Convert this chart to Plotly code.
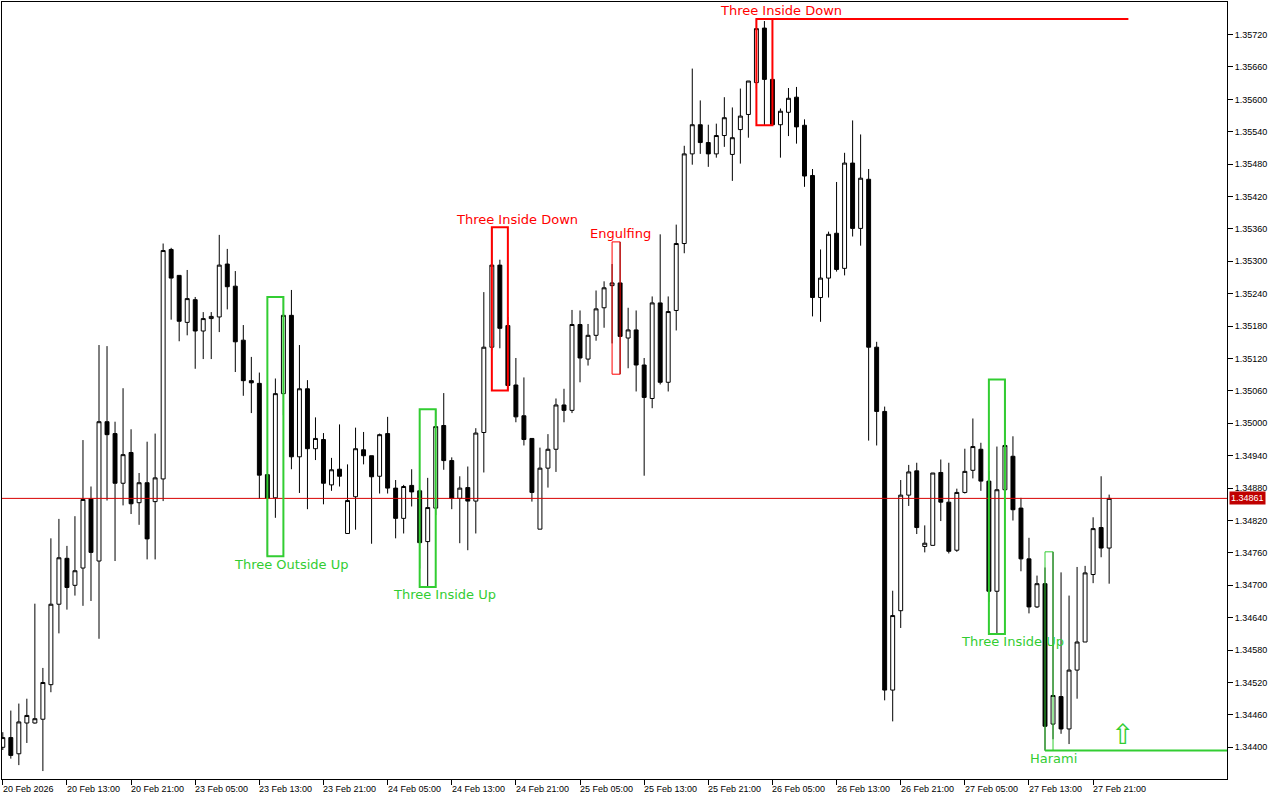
import plotly.graph_objects as go

# ---------------- data (H1 candles, 20 Feb 05:00 .. 27 Feb 23:00) ----------------
open_ = [
    1.34400, 1.34418, 1.34388, 1.34445, 1.34445, 1.34452, 1.34516, 1.34665, 1.34750, 1.34700,
    1.34732, 1.34860, 1.34745, 1.35003, 1.34981, 1.34889, 1.34946, 1.34853, 1.34890, 1.34855,
    1.34897, 1.35322, 1.35274, 1.35187, 1.35229, 1.35171, 1.35194, 1.35197, 1.35295, 1.35254,
    1.35154, 1.35079, 1.35074, 1.34905, 1.34862, 1.35055, 1.35200, 1.34938, 1.35064, 1.34953,
    1.34970, 1.34886, 1.34915, 1.34796, 1.34864, 1.34951, 1.34940, 1.34902, 1.34981, 1.34880,
    1.34824, 1.34885, 1.34875, 1.34781, 1.34843, 1.34996, 1.34931, 1.34861, 1.34881, 1.34856,
    1.34983, 1.35141, 1.35293, 1.35181, 1.35071, 1.35014, 1.34972, 1.34804, 1.34917, 1.34952,
    1.35034, 1.35024, 1.35183, 1.35119, 1.35163, 1.35214, 1.35255, 1.35260, 1.35158, 1.35173,
    1.35108, 1.35046, 1.35223, 1.35076, 1.35209, 1.35333, 1.35499, 1.35553, 1.35520, 1.35499,
    1.35533, 1.35498, 1.35544, 1.35572, 1.35631, 1.35732, 1.35637, 1.35553, 1.35576, 1.35604,
    1.35552, 1.35459, 1.35233, 1.35269, 1.35352, 1.35287, 1.35482, 1.35361, 1.35452, 1.35141,
    1.35022, 1.34506, 1.34653, 1.34867, 1.34912, 1.34772, 1.34774, 1.34909, 1.34854, 1.34765,
    1.34872, 1.34913, 1.34952, 1.34893, 1.34689, 1.34877, 1.34939, 1.34843, 1.34749, 1.34660,
    1.34703, 1.34443, 1.34494, 1.34434, 1.34543, 1.34595, 1.34720, 1.34807, 1.34769,
]
high = [
    1.34428, 1.34468, 1.34481, 1.34490, 1.34666, 1.34547, 1.34787, 1.34823, 1.34773, 1.34828,
    1.34969, 1.34883, 1.35145, 1.35143, 1.35003, 1.35065, 1.34989, 1.34908, 1.34966, 1.34981,
    1.35333, 1.35325, 1.35274, 1.35284, 1.35234, 1.35206, 1.35206, 1.35349, 1.35323, 1.35282,
    1.35182, 1.35123, 1.35094, 1.34905, 1.35083, 1.35234, 1.35247, 1.35145, 1.35080, 1.35011,
    1.34982, 1.34936, 1.34998, 1.34924, 1.34992, 1.34984, 1.34940, 1.34981, 1.35012, 1.34895,
    1.34886, 1.34915, 1.34878, 1.34899, 1.35026, 1.35056, 1.34937, 1.34902, 1.34920, 1.34991,
    1.35243, 1.35363, 1.35303, 1.35197, 1.35121, 1.35085, 1.34972, 1.34955, 1.34980, 1.35046,
    1.35064, 1.35210, 1.35209, 1.35184, 1.35246, 1.35263, 1.35295, 1.35336, 1.35214, 1.35209,
    1.35121, 1.35235, 1.35350, 1.35235, 1.35368, 1.35514, 1.35657, 1.35598, 1.35553, 1.35555,
    1.35604, 1.35585, 1.35620, 1.35634, 1.35749, 1.35745, 1.35654, 1.35583, 1.35621, 1.35623,
    1.35563, 1.35471, 1.35322, 1.35355, 1.35447, 1.35501, 1.35561, 1.35535, 1.35471, 1.35151,
    1.35031, 1.34690, 1.34895, 1.34923, 1.34927, 1.34811, 1.34908, 1.34933, 1.34927, 1.34879,
    1.34953, 1.35009, 1.34964, 1.34912, 1.34957, 1.35081, 1.34976, 1.34862, 1.34788, 1.34718,
    1.34733, 1.34762, 1.34724, 1.34681, 1.34734, 1.34736, 1.34826, 1.34902, 1.34868,
]
low = [
    1.34395, 1.34379, 1.34367, 1.34408, 1.34444, 1.34356, 1.34502, 1.34611, 1.34655, 1.34681,
    1.34662, 1.34671, 1.34601, 1.34857, 1.34745, 1.34848, 1.34832, 1.34812, 1.34748, 1.34748,
    1.34856, 1.35192, 1.35152, 1.35163, 1.35101, 1.35119, 1.35119, 1.35169, 1.35211, 1.35095,
    1.35051, 1.35019, 1.34860, 1.34754, 1.34825, 1.35015, 1.34915, 1.34871, 1.34841, 1.34932,
    1.34850, 1.34875, 1.34883, 1.34796, 1.34803, 1.34924, 1.34777, 1.34870, 1.34870, 1.34787,
    1.34796, 1.34846, 1.34731, 1.34697, 1.34830, 1.34914, 1.34841, 1.34778, 1.34765, 1.34796,
    1.34909, 1.35135, 1.35139, 1.35061, 1.35002, 1.34959, 1.34855, 1.34804, 1.34881, 1.34910,
    1.35002, 1.35019, 1.35076, 1.35107, 1.35153, 1.35177, 1.35148, 1.35091, 1.35102, 1.35059,
    1.34903, 1.35028, 1.35072, 1.35059, 1.35172, 1.35315, 1.35479, 1.35499, 1.35475, 1.35492,
    1.35512, 1.35449, 1.35481, 1.35529, 1.35620, 1.35552, 1.35552, 1.35492, 1.35532, 1.35518,
    1.35438, 1.35198, 1.35188, 1.35233, 1.35281, 1.35274, 1.35346, 1.35329, 1.34968, 1.34959,
    1.34487, 1.34448, 1.34621, 1.34847, 1.34795, 1.34761, 1.34774, 1.34819, 1.34759, 1.34762,
    1.34870, 1.34898, 1.34875, 1.34669, 1.34610, 1.34868, 1.34820, 1.34726, 1.34648, 1.34658,
    1.34394, 1.34415, 1.34425, 1.34406, 1.34490, 1.34595, 1.34704, 1.34752, 1.34703,
]
close = [
    1.34418, 1.34385, 1.34447, 1.34459, 1.34453, 1.34520, 1.34665, 1.34751, 1.34696, 1.34727,
    1.34859, 1.34761, 1.35003, 1.34979, 1.34889, 1.34942, 1.34851, 1.34890, 1.34786, 1.34899,
    1.35320, 1.35269, 1.35189, 1.35231, 1.35171, 1.35194, 1.35198, 1.35293, 1.35253, 1.35151,
    1.35079, 1.35075, 1.34904, 1.34861, 1.35055, 1.35200, 1.34938, 1.35064, 1.34953, 1.34972,
    1.34889, 1.34914, 1.34902, 1.34857, 1.34953, 1.34940, 1.34901, 1.34979, 1.34880, 1.34824,
    1.34883, 1.34873, 1.34779, 1.34844, 1.34994, 1.34931, 1.34861, 1.34880, 1.34856, 1.34982,
    1.35141, 1.35293, 1.35176, 1.35070, 1.35012, 1.34970, 1.34872, 1.34917, 1.34952, 1.35034,
    1.35024, 1.35183, 1.35121, 1.35163, 1.35212, 1.35251, 1.35260, 1.35161, 1.35173, 1.35108,
    1.35048, 1.35223, 1.35076, 1.35207, 1.35333, 1.35499, 1.35553, 1.35520, 1.35499, 1.35533,
    1.35566, 1.35529, 1.35569, 1.35634, 1.35731, 1.35637, 1.35553, 1.35578, 1.35602, 1.35549,
    1.35458, 1.35233, 1.35269, 1.35350, 1.35285, 1.35482, 1.35361, 1.35454, 1.35141, 1.35022,
    1.34506, 1.34644, 1.34867, 1.34910, 1.34807, 1.34778, 1.34908, 1.34854, 1.34763, 1.34872,
    1.34911, 1.34957, 1.34893, 1.34689, 1.34877, 1.34959, 1.34840, 1.34749, 1.34660, 1.34703,
    1.34439, 1.34496, 1.34434, 1.34543, 1.34595, 1.34723, 1.34805, 1.34769, 1.34861,
]
bar_index = list(range(len(close)))

x_tick_labels = [
    "20 Feb 2026", "20 Feb 13:00", "20 Feb 21:00", "23 Feb 05:00", "23 Feb 13:00",
    "23 Feb 21:00", "24 Feb 05:00", "24 Feb 13:00", "24 Feb 21:00", "25 Feb 05:00",
    "25 Feb 13:00", "25 Feb 21:00", "26 Feb 05:00", "26 Feb 13:00", "26 Feb 21:00",
    "27 Feb 05:00", "27 Feb 13:00", "27 Feb 21:00",
]
bars_per_label = 8

y_ticks = [1.34400, 1.34460, 1.34520, 1.34580, 1.34640, 1.34700, 1.34760, 1.34820,
           1.34880, 1.34940, 1.35000, 1.35060, 1.35120, 1.35180, 1.35240, 1.35300,
           1.35360, 1.35420, 1.35480, 1.35540, 1.35600, 1.35660, 1.35720]

current_price = 1.34861

# candlestick patterns: name, first bar, last bar, direction, label position (bar units)
pattern_names = ["Three Outside Up", "Three Inside Up", "Three Inside Down", "Engulfing",
                 "Three Inside Down", "Three Inside Up", "Harami"]
pattern_start = [33, 52, 61, 76, 94, 123, 130]
pattern_end = [35, 54, 63, 77, 96, 125, 131]
pattern_bull = [True, True, False, False, False, True, True]
pattern_label_x = [36.0, 55.1, 64.1, 77.1, 97.1, 125.9, 131.0]

# level lines drawn from pattern extremes: pattern number, end bar (None = chart edge)
level_pattern = [4, 6]
level_end = [140.4, None]

signal_arrow_bar = 139.7
signal_arrow_price = 1.34424

# ---------------- figure ----------------
X_MIN, X_MAX = -0.1, 152.7
Y_MIN, Y_MAX = 1.343413, 1.357803
GREEN = "#32cd32"
RED = "#ff0000"

fig = go.Figure()
fig.add_trace(go.Candlestick(
    x=bar_index, open=open_, high=high, low=low, close=close,
    increasing=dict(fillcolor="white", line=dict(color="black", width=1)),
    decreasing=dict(fillcolor="black", line=dict(color="black", width=1)),
    whiskerwidth=0, hoverinfo="skip", showlegend=False,
))

shapes = []
annotations = []

# current price line
shapes.append(dict(type="line", xref="paper", x0=0, x1=1, yref="y",
                   y0=current_price, y1=current_price,
                   line=dict(color="#d80000", width=1), layer="above"))

pat_lo, pat_hi = [], []
for name, s, e, bull, lx in zip(pattern_names, pattern_start, pattern_end,
                                pattern_bull, pattern_label_x):
    lo = min(low[s:e + 1])
    hi = max(high[s:e + 1])
    pat_lo.append(lo)
    pat_hi.append(hi)
    col = GREEN if bull else RED
    w = 2 if (e - s) >= 2 else 1
    shapes.append(dict(type="rect", xref="x", yref="y", x0=s, x1=e, y0=lo, y1=hi,
                       line=dict(color=col, width=w), fillcolor="rgba(0,0,0,0)",
                       layer="above"))
    annotations.append(dict(x=lx, y=lo if bull else hi, xref="x", yref="y",
                            text=name, showarrow=False, xanchor="center",
                            yanchor="middle", yshift=-8 if bull else 8,
                            font=dict(family="DejaVu Sans", size=13, color=col)))

for p, xe in zip(level_pattern, level_end):
    bull = pattern_bull[p]
    yv = pat_lo[p] if bull else pat_hi[p]
    shapes.append(dict(type="line", xref="x", yref="y",
                       x0=pattern_start[p], x1=(X_MAX + 1 if xe is None else xe),
                       y0=yv, y1=yv,
                       line=dict(color=GREEN if bull else RED, width=2), layer="above"))

annotations.append(dict(x=signal_arrow_bar, y=signal_arrow_price, xref="x", yref="y",
                        text="⇧", showarrow=False, xanchor="center", yanchor="middle",
                        font=dict(family="DejaVu Sans", size=28, color=GREEN)))

# price tag on the right axis
annotations.append(dict(x=1, y=current_price, xref="paper", yref="y",
                        text=f"{current_price:.5f}", showarrow=False, xanchor="left",
                        yanchor="middle", xshift=2, bgcolor="#c00000", borderpad=1,
                        font=dict(family="Liberation Sans", size=9, color="white")))

# left-aligned time labels (MetaTrader style)
tick_pos = [i * bars_per_label for i in range(len(x_tick_labels))]
for tp, lab in zip(tick_pos, x_tick_labels):
    annotations.append(dict(x=tp, y=0, xref="x", yref="paper", text=lab,
                            showarrow=False, xanchor="left", yanchor="top",
                            xshift=-2, yshift=-3,
                            font=dict(family="Liberation Sans", size=9, color="black")))

fig.update_layout(
    width=1280, height=800,
    margin=dict(l=2, r=53, t=2, b=21, pad=0),
    paper_bgcolor="white", plot_bgcolor="white",
    shapes=shapes, annotations=annotations,
    showlegend=False,
    xaxis=dict(range=[X_MIN, X_MAX], tickvals=tick_pos, showticklabels=False,
               ticks="outside", ticklen=5, tickcolor="black", tickwidth=1,
               showline=True, mirror=True, linecolor="black", linewidth=1,
               showgrid=False, zeroline=False, rangeslider=dict(visible=False),
               fixedrange=True),
    yaxis=dict(range=[Y_MIN, Y_MAX], side="right", tickvals=y_ticks,
               ticktext=[f"{v:.5f}" for v in y_ticks],
               ticks="outside", ticklen=5, tickcolor="black", tickwidth=1,
               tickfont=dict(family="Liberation Sans", size=9, color="black"),
               showline=True, mirror=True, linecolor="black", linewidth=1,
               showgrid=False, zeroline=False, fixedrange=True),
)

fig.write_html("out.html", config={"displayModeBar": False},
               post_script="document.body.style.margin='0px';")
